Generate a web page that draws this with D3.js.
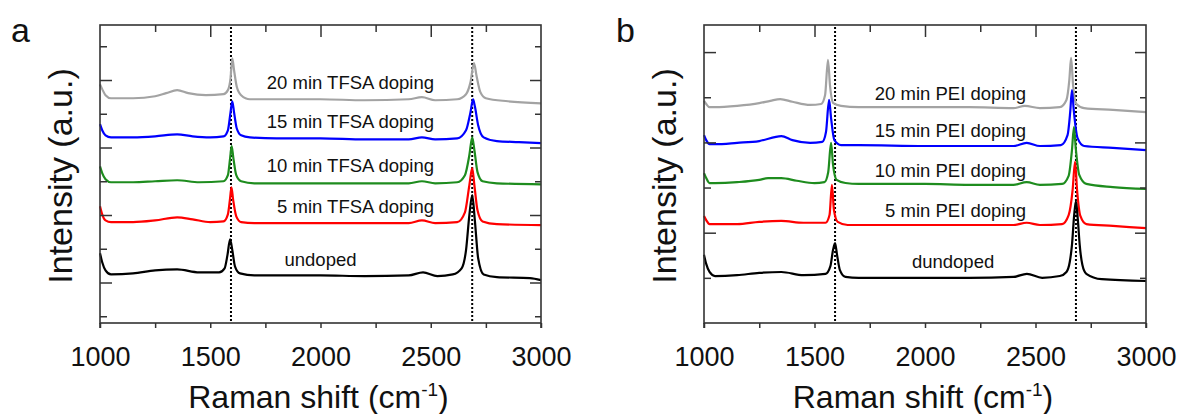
<!DOCTYPE html>
<html>
<head>
<meta charset="utf-8">
<script src="https://cdn.jsdelivr.net/npm/d3@7"></script>
<style>
  html, body { margin: 0; padding: 0; background: #fff; }
  svg { display: block; }
  text { font-family: "Liberation Sans", Arial, sans-serif; fill: #111; }
</style>
</head>
<body>
<svg id="chart" width="1181" height="414"></svg>
<script>
// ---------------- DATA (Raman shift cm^-1, intensity a.u.) ----------------
const xMajorTicks = [1000, 1500, 2000, 2500, 3000];
const xMinorTicks = [1250, 1750, 2250, 2750];
const xTickLabels = ["1000", "1500", "2000", "2500", "3000"];

// Panel a: TFSA doping
const tfsa20 = [[1000,6.87],[1010,6.73],[1025,6.55],[1050,6.46],[1150,6.46],[1250,6.52],[1300,6.61],[1350,6.70],[1400,6.61],[1480,6.55],[1560,6.58],[1580,6.70],[1592,7.05],[1600,7.64],[1608,7.29],[1620,6.81],[1640,6.55],[1680,6.43],[1800,6.43],[2000,6.43],[2200,6.40],[2400,6.43],[2460,6.49],[2520,6.40],[2620,6.43],[2660,6.58],[2680,6.93],[2696,7.50],[2708,7.11],[2725,6.64],[2750,6.46],[2850,6.37],[3000,6.31]];
const tfsa15 = [[1000,5.69],[1010,5.51],[1025,5.36],[1050,5.30],[1150,5.30],[1250,5.33],[1350,5.39],[1420,5.33],[1500,5.30],[1560,5.33],[1580,5.51],[1592,6.04],[1600,6.37],[1608,6.04],[1620,5.57],[1640,5.36],[1680,5.30],[1800,5.27],[2000,5.27],[2200,5.24],[2400,5.24],[2460,5.30],[2520,5.24],[2620,5.27],[2660,5.51],[2680,6.04],[2692,6.43],[2700,6.22],[2715,5.66],[2740,5.30],[2800,5.19],[2900,5.16],[3000,5.13]];
const tfsa10 = [[1000,4.44],[1010,4.24],[1025,4.06],[1050,3.97],[1150,3.97],[1250,4.00],[1350,4.03],[1450,3.97],[1560,4.00],[1580,4.18],[1590,4.68],[1597,5.04],[1605,4.68],[1618,4.18],[1640,4.00],[1700,3.94],[2000,3.94],[2200,3.94],[2400,3.94],[2460,4.00],[2520,3.94],[2620,3.97],[2655,4.18],[2675,4.77],[2688,5.30],[2698,4.92],[2712,4.27],[2735,4.00],[2800,3.94],[3000,3.91]];
const tfsa5 = [[1000,3.26],[1010,3.02],[1025,2.84],[1050,2.79],[1150,2.79],[1250,2.84],[1350,2.93],[1420,2.87],[1500,2.79],[1560,2.81],[1580,3.02],[1590,3.50],[1596,3.82],[1604,3.44],[1618,2.96],[1640,2.79],[1700,2.76],[2000,2.76],[2200,2.76],[2400,2.76],[2460,2.84],[2520,2.76],[2620,2.79],[2655,3.08],[2675,3.88],[2688,4.39],[2698,3.88],[2712,3.14],[2735,2.81],[2800,2.73],[3000,2.70]];
const undopedA = [[1000,1.87],[1010,1.60],[1025,1.36],[1050,1.24],[1150,1.27],[1250,1.36],[1350,1.39],[1450,1.30],[1540,1.30],[1565,1.42],[1578,1.81],[1590,2.28],[1600,1.96],[1612,1.48],[1635,1.27],[1700,1.21],[2000,1.21],[2200,1.19],[2400,1.21],[2465,1.30],[2530,1.19],[2600,1.24],[2640,1.42],[2660,1.96],[2675,2.99],[2688,3.59],[2700,2.84],[2715,1.72],[2740,1.24],[2800,1.16],[2950,1.13],[3000,1.07]];

// Panel b: PEI doping
const pei20 = [[1000,4.92],[1010,4.85],[1025,4.78],[1050,4.78],[1150,4.81],[1250,4.87],[1300,4.92],[1345,4.96],[1400,4.90],[1480,4.83],[1530,4.85],[1548,5.05],[1561,5.83],[1570,5.27],[1585,4.87],[1620,4.81],[1700,4.78],[2000,4.78],[2200,4.78],[2400,4.76],[2452,4.81],[2520,4.76],[2610,4.78],[2640,4.94],[2653,5.38],[2661,5.87],[2670,5.27],[2685,4.85],[2720,4.76],[2850,4.72],[3000,4.67]];
const pei15 = [[1000,4.16],[1010,4.05],[1025,3.96],[1050,3.96],[1150,3.99],[1250,4.03],[1350,4.14],[1400,4.05],[1480,3.99],[1535,4.01],[1552,4.23],[1566,4.94],[1575,4.54],[1590,4.05],[1620,3.94],[1700,3.94],[2000,3.92],[2200,3.92],[2400,3.92],[2460,3.99],[2520,3.92],[2615,3.94],[2645,4.16],[2657,4.67],[2665,5.16],[2673,4.72],[2690,4.10],[2720,3.92],[2850,3.88],[3000,3.83]];
const pei10 = [[1000,3.32],[1010,3.21],[1025,3.10],[1050,3.10],[1150,3.12],[1250,3.17],[1290,3.21],[1350,3.21],[1420,3.15],[1500,3.10],[1545,3.12],[1562,3.34],[1575,3.99],[1584,3.50],[1600,3.17],[1640,3.10],[1700,3.08],[2000,3.08],[2200,3.06],[2400,3.06],[2460,3.12],[2520,3.06],[2620,3.08],[2650,3.26],[2665,3.83],[2674,4.34],[2682,3.88],[2698,3.28],[2730,3.08],[2850,3.01],[3000,2.97]];
const pei5 = [[1000,2.37],[1010,2.28],[1025,2.19],[1050,2.19],[1150,2.19],[1250,2.24],[1350,2.26],[1450,2.22],[1550,2.22],[1568,2.39],[1579,3.06],[1588,2.50],[1605,2.24],[1650,2.17],[2000,2.17],[2200,2.17],[2400,2.17],[2460,2.22],[2520,2.17],[2620,2.19],[2650,2.39],[2668,2.95],[2679,3.57],[2688,2.95],[2703,2.37],[2730,2.19],[2850,2.15],[3000,2.10]];
const undopedB = [[1000,1.51],[1010,1.31],[1025,1.13],[1050,1.04],[1150,1.06],[1250,1.11],[1350,1.13],[1450,1.06],[1550,1.09],[1572,1.26],[1584,1.62],[1593,1.77],[1602,1.51],[1615,1.17],[1640,1.02],[1700,1.00],[2000,1.00],[2200,1.00],[2400,1.02],[2461,1.09],[2530,1.00],[2610,1.04],[2640,1.13],[2655,1.35],[2665,1.73],[2675,2.39],[2683,2.70],[2692,2.26],[2700,1.73],[2712,1.29],[2730,1.09],[2800,0.97],[3000,0.93]];

const labelsA = ["20 min TFSA doping", "15 min TFSA doping", "10 min TFSA doping", "5 min TFSA doping", "undoped"];
const labelsB = ["20 min PEI doping", "15 min PEI doping", "10 min PEI doping", "5 min PEI doping", "dundoped"];
// label anchor positions in data units [shift, intensity]
const labelPosA = [[2515, 6.73], [2515, 5.57], [2515, 4.27], [2515, 3.05], [2000, 1.48]];
const labelPosB = [[2457, 4.94], [2457, 4.12], [2457, 3.23], [2457, 2.35], [2127, 1.22]];
const peakLinesA = [1594, 2688];
const peakLinesB = [1593, 2683];
const seriesColors = ["#a3a3a3", "#0000ff", "#1e8c1e", "#ff0000", "#000000"];

// ---------------- DRAWING ----------------
const svg = d3.select("#chart");

function drawPanel(o) {
  const x = d3.scaleLinear().domain([1000, 3000]).range([o.left, o.right]);
  const y = d3.scaleLinear().domain(o.yDomain).range([o.bottom, o.top]);
  const g = svg.append("g");

  // dotted peak lines
  g.selectAll("line.peak").data(o.peaks).join("line")
    .attr("x1", d => x(d)).attr("x2", d => x(d))
    .attr("y1", o.top + 2).attr("y2", o.bottom)
    .attr("stroke", "#000").attr("stroke-width", 2)
    .attr("stroke-dasharray", "2,2");

  // spectra
  const line = d3.line().x(d => x(d[0])).y(d => y(d[1])).curve(d3.curveMonotoneX);
  g.selectAll("path.spec").data(o.series).join("path")
    .attr("fill", "none")
    .attr("stroke", (d, i) => seriesColors[i])
    .attr("stroke-width", 2.2)
    .attr("stroke-linejoin", "round")
    .attr("d", line);

  // series labels
  g.selectAll("text.lab").data(o.labels).join("text")
    .attr("x", (d, i) => x(o.labelPos[i][0]))
    .attr("y", (d, i) => y(o.labelPos[i][1]))
    .attr("text-anchor", (d, i) => i === 4 ? "middle" : "end")
    .attr("font-size", 18.5)
    .text(d => d);

  const axisColor = "#333";
  function styleAxis(sel) {
    sel.select(".domain").remove();
    sel.selectAll(".tick line").attr("stroke", axisColor).attr("stroke-width", 1.5);
  }

  // bottom ticks (outward) with labels
  const bottom = g.append("g").attr("transform", `translate(0,${o.bottom})`)
    .call(d3.axisBottom(x).tickValues(xMajorTicks.concat(xMinorTicks)).tickSize(5).tickSizeOuter(0)
      .tickFormat(d => { const k = xMajorTicks.indexOf(d); return k >= 0 ? xTickLabels[k] : ""; }));
  styleAxis(bottom);
  bottom.selectAll("text").attr("font-size", 27).attr("y", 43).attr("dy", 0)
    .attr("font-family", "Liberation Sans, Arial, sans-serif").attr("fill", "#111");

  // top ticks (inward)
  const topMaj = g.append("g").attr("transform", `translate(0,${o.top})`)
    .call(d3.axisTop(x).tickValues(xMajorTicks.slice(1, -1)).tickSize(-12).tickFormat(""));
  styleAxis(topMaj);
  const topMin = g.append("g").attr("transform", `translate(0,${o.top})`)
    .call(d3.axisTop(x).tickValues(xMinorTicks).tickSize(-7).tickFormat(""));
  styleAxis(topMin);

  // left / right ticks (inward)
  const yMaj = o.yTicks.filter((d, i) => i % 2 === o.majorParity);
  const yMin = o.yTicks.filter((d, i) => i % 2 !== o.majorParity);
  [[yMaj, 12, 11], [yMin, 7, 6]].forEach(([vals, ls, rs]) => {
    const l = g.append("g").attr("transform", `translate(${o.left},0)`)
      .call(d3.axisLeft(y).tickValues(vals).tickSize(-ls).tickFormat(""));
    styleAxis(l);
    const r = g.append("g").attr("transform", `translate(${o.right},0)`)
      .call(d3.axisRight(y).tickValues(vals).tickSize(-rs).tickFormat(""));
    styleAxis(r);
  });

  // frame
  g.append("rect")
    .attr("x", o.left).attr("y", o.top)
    .attr("width", o.right - o.left).attr("height", o.bottom - o.top)
    .attr("fill", "none").attr("stroke", axisColor).attr("stroke-width", 1.6);
  g.selectAll("line.corner").data([o.left, o.right]).join("line")
    .attr("x1", d => d).attr("x2", d => d)
    .attr("y1", o.bottom).attr("y2", o.bottom + 5)
    .attr("stroke", axisColor).attr("stroke-width", 1.6);

  // axis titles
  const xt = g.append("text")
    .attr("x", (o.left + o.right) / 2 - 2).attr("y", 408)
    .attr("text-anchor", "middle").attr("font-size", 32);
  xt.append("tspan").text("Raman shift (cm");
  xt.append("tspan").attr("font-size", 19).attr("dy", -12).text("-1");
  xt.append("tspan").attr("dy", 12).text(")");

  g.append("text")
    .attr("transform", `translate(${o.left - 28},${(o.top + o.bottom) / 2 + 2}) rotate(-90)`)
    .attr("text-anchor", "middle").attr("font-size", 34)
    .text("Intensity (a.u.)");

  g.append("text")
    .attr("x", o.letterX).attr("y", 42)
    .attr("font-size", 34)
    .text(o.letter);
}

drawPanel({
  left: 100, right: 541, top: 25, bottom: 323,
  yDomain: [-0.2, 8.63], yTicks: [0, 1, 2, 3, 4, 5, 6, 7, 8], majorParity: 1,
  series: [tfsa20, tfsa15, tfsa10, tfsa5, undopedA],
  labels: labelsA, labelPos: labelPosA, peaks: peakLinesA,
  letter: "a", letterX: 11
});

drawPanel({
  left: 704, right: 1146, top: 25, bottom: 323,
  yDomain: [0, 6.6], yTicks: [1, 2, 3, 4, 5, 6], majorParity: 1,
  series: [pei20, pei15, pei10, pei5, undopedB],
  labels: labelsB, labelPos: labelPosB, peaks: peakLinesB,
  letter: "b", letterX: 616
});
</script>
</body>
</html>
